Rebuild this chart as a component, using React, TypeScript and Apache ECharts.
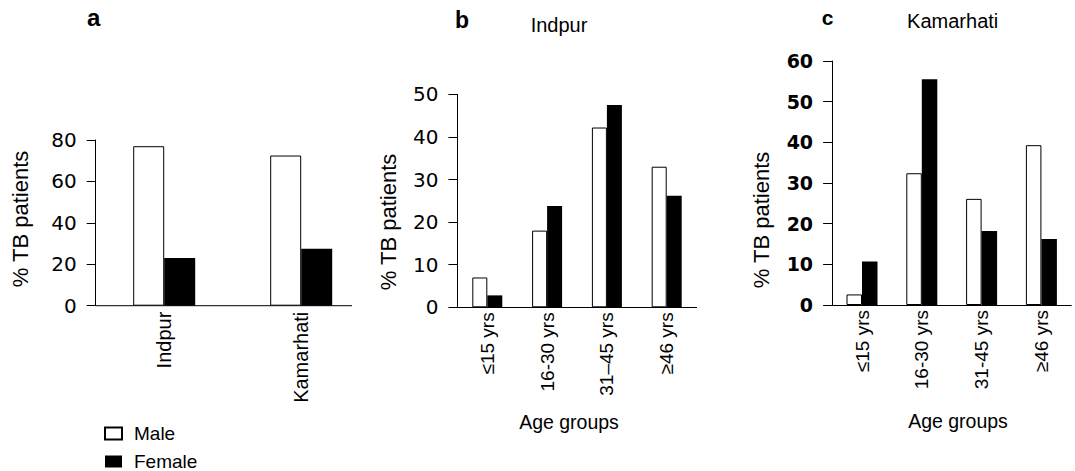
import React, { useEffect, useRef } from "react";
import * as echarts from "echarts";

const seriesNames = ["Male", "Female"];

const sites = ["Indpur", "Kamarhati"];
const siteMale = [77, 72.5];
const siteFemale = [23, 27.5];

const ageGroupsB = ["≤15 yrs", "16-30 yrs", "31–45 yrs", "≥46 yrs"];
const indpurMale = [7, 18, 42.2, 33];
const indpurFemale = [2.8, 23.8, 47.5, 26.2];

const ageGroupsC = ["≤15 yrs", "16-30 yrs", "31-45 yrs", "≥46 yrs"];
const kamarhatiMale = [2.6, 32.4, 26.1, 39.3];
const kamarhatiFemale = [10.7, 55.5, 18.2, 16.2];

const yTicksA = [0, 20, 40, 60, 80];
const yTicksB = [0, 10, 20, 30, 40, 50];
const yTicksC = [0, 10, 20, 30, 40, 50, 60];

const panelLetters = ["a", "b", "c"];
const panelTitles = ["Indpur", "Kamarhati"];
const yAxisName = "% TB patients";
const xAxisName = "Age groups";

const FONT = "Liberation Sans, Arial, sans-serif";
const TICK_FONT = "DejaVu Sans, sans-serif";

function yAxisFor(idx: number, ticks: number[], bold: boolean) {
  return {
    type: "value",
    gridIndex: idx,
    min: ticks[0],
    max: ticks[ticks.length - 1],
    interval: ticks[1] - ticks[0],
    axisLine: { show: true, lineStyle: { color: "#000", width: 1 } },
    axisTick: { show: true, length: 9, lineStyle: { color: "#000", width: 1 } },
    splitLine: { show: false },
    axisLabel: {
      margin: 19,
      fontSize: bold ? 19 : 20,
      fontFamily: TICK_FONT,
      fontWeight: bold ? "bold" : "normal",
      color: "#000",
    },
  };
}

function xAxisFor(idx: number, cats: string[], showLine: boolean, fontSize: number, margin: number) {
  return {
    type: "category",
    gridIndex: idx,
    data: cats,
    axisLine: { show: showLine, lineStyle: { color: "#000", width: 1 } },
    axisTick: { show: false },
    axisLabel: {
      rotate: 90,
      interval: 0,
      margin,
      fontSize,
      fontFamily: FONT,
      color: "#000",
    },
  };
}

const maleStyle = { color: "#fff", borderColor: "#000", borderWidth: 1 };
const femaleStyle = { color: "#000", borderColor: "#000", borderWidth: 0 };

function barSeries(idx: number, male: number[], female: number[], width: number) {
  return [
    {
      type: "bar",
      name: seriesNames[0],
      xAxisIndex: idx,
      yAxisIndex: idx,
      data: male,
      barWidth: width,
      barGap: "0%",
      itemStyle: maleStyle,
    },
    {
      type: "bar",
      name: seriesNames[1],
      xAxisIndex: idx,
      yAxisIndex: idx,
      data: female,
      barWidth: width,
      barGap: "0%",
      itemStyle: femaleStyle,
    },
  ];
}

function textEl(text: string, x: number, y: number, size: number, bold: boolean, align: string, rotation = 0) {
  return {
    type: "text",
    x,
    y,
    rotation,
    style: {
      text,
      fill: "#000",
      fontSize: size,
      fontFamily: FONT,
      fontWeight: bold ? "bold" : "normal",
      textAlign: align,
      textVerticalAlign: "middle",
    },
  };
}

export default function App() {
  const ref = useRef<HTMLDivElement>(null);

  useEffect(() => {
    if (!ref.current) return;
    const chart = echarts.init(ref.current, undefined, { renderer: "svg" });
    const option: any = {
      animation: false,
      backgroundColor: "#fff",
      textStyle: { fontFamily: FONT },
      grid: [
        { left: 95.7, top: 140, width: 274, height: 165.7, containLabel: false, outerBoundsMode: "none" },
        { left: 457.4, top: 94.3, width: 239.2, height: 213, containLabel: false, outerBoundsMode: "none" },
        { left: 832.1, top: 61, width: 239.2, height: 244, containLabel: false, outerBoundsMode: "none" },
      ],
      xAxis: [
        xAxisFor(0, sites, false, 20, 6),
        xAxisFor(1, ageGroupsB, true, 19, 5),
        xAxisFor(2, ageGroupsC, true, 19, 5),
      ],
      yAxis: [
        yAxisFor(0, yTicksA, false),
        yAxisFor(1, yTicksB, false),
        yAxisFor(2, yTicksC, true),
      ],
      legend: {
        orient: "vertical",
        left: 104,
        top: 424,
        padding: 0,
        itemWidth: 17,
        itemHeight: 12,
        itemGap: 9,
        icon: "rect",
        selectedMode: false,
        data: seriesNames,
        textStyle: { fontSize: 19, fontFamily: FONT, color: "#000", padding: [0, 0, 0, 7] },
      },
      series: [
        ...barSeries(0, siteMale, siteFemale, 31),
        ...barSeries(1, indpurMale, indpurFemale, 15),
        ...barSeries(2, kamarhatiMale, kamarhatiFemale, 15.5),
      ],
      graphic: [
        {
          type: "line",
          shape: { x1: 95.7, y1: 305.7, x2: 352, y2: 305.7 },
          style: { stroke: "#000", lineWidth: 1 },
        },
        textEl(panelLetters[0], 87, 17, 24, true, "left"),
        textEl(panelLetters[1], 455, 20.3, 23, true, "left"),
        textEl(panelLetters[2], 821.7, 17, 21, true, "left"),
        textEl(panelTitles[0], 559, 25.3, 20, false, "center"),
        textEl(panelTitles[1], 952.7, 21.3, 20, false, "center"),
        textEl(yAxisName, 20, 219, 22, false, "center", Math.PI / 2),
        textEl(yAxisName, 388, 222, 22, false, "center", Math.PI / 2),
        textEl(yAxisName, 761, 220, 22, false, "center", Math.PI / 2),
        textEl(xAxisName, 569, 422, 19.5, false, "center"),
        textEl(xAxisName, 958, 420.5, 19.5, false, "center"),
      ],
    };
    chart.setOption(option);
    return () => chart.dispose();
  }, []);

  return (
    <div
      ref={ref}
      style={{ position: "fixed", left: 0, top: 0, width: 1075, height: 471, background: "#fff" }}
    />
  );
}
